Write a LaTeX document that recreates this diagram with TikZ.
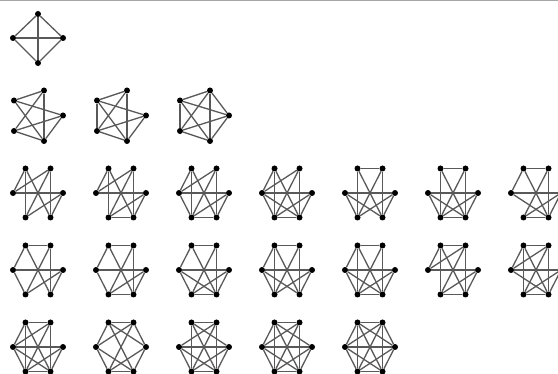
\documentclass[tikz,border=0pt]{standalone}
\tikzset{
  vtx/.style={circle, fill=black, inner sep=0pt, minimum size=6pt},
  gedge/.style={draw=black!65, line width=1.3pt},
  frame/.style={draw=black!35, line width=1pt},
}
% hexagon graph: name, cx, cy, edge list (1=TL,2=TR,3=L,4=R,5=BL,6=BR)
\newcommand{\hexg}[4]{%
  \node[vtx] (#1-1) at (#2-12.5,#3-24.5) {};
  \node[vtx] (#1-2) at (#2+12.5,#3-24.5) {};
  \node[vtx] (#1-3) at (#2-25,#3) {};
  \node[vtx] (#1-4) at (#2+25,#3) {};
  \node[vtx] (#1-5) at (#2-12.5,#3+24.5) {};
  \node[vtx] (#1-6) at (#2+12.5,#3+24.5) {};
  \foreach \a/\b in {#4} \draw[gedge] (#1-\a) -- (#1-\b);
}
% pentagon graph: name, cx, cy, edge list (1=TL,2=T,3=R,4=BR,5=BL)
\newcommand{\peng}[4]{%
  \node[vtx] (#1-1) at (#2-24,#3-15) {};
  \node[vtx] (#1-2) at (#2+6,#3-25) {};
  \node[vtx] (#1-3) at (#2+25,#3) {};
  \node[vtx] (#1-4) at (#2+6,#3+25.5) {};
  \node[vtx] (#1-5) at (#2-24,#3+15.5) {};
  \foreach \a/\b in {#4} \draw[gedge] (#1-\a) -- (#1-\b);
}
\begin{document}
\begin{tikzpicture}[x=1pt,y=-1pt]
\useasboundingbox (0,0) rectangle (558,374);
\coordinate (fl) at (0,1);
\coordinate (fr) at (558,1);
\draw[frame] (fl) -- (fr);
% K4
\node[vtx] (k-1) at (38,14) {};
\node[vtx] (k-2) at (13,38) {};
\node[vtx] (k-3) at (63,38) {};
\node[vtx] (k-4) at (38,63) {};
\foreach \a/\b in {1/2,1/3,1/4,2/3,2/4,3/4} \draw[gedge] (k-\a) -- (k-\b);
% 5 vertices
\peng{p1}{38}{115.5}{1/2,1/3,1/4,2/5,2/4,5/3,5/4,4/3}
\peng{p2}{121}{115.5}{1/2,1/3,1/4,2/5,2/4,5/3,5/4,4/3,1/5}
\peng{p3}{204}{115.5}{1/2,1/3,1/4,1/5,2/3,2/4,2/5,3/4,3/5,4/5}
% row 3
\hexg{a1}{38}{193}{1/3,1/5,1/6,2/3,2/5,2/6,3/4,4/5,4/6}
\hexg{a2}{121}{193}{1/3,1/5,1/6,2/3,2/5,2/6,3/4,4/5,4/6,5/6}
\hexg{a3}{204}{193}{1/3,1/5,1/6,2/3,2/5,2/6,3/4,3/5,4/5,4/6,5/6}
\hexg{a4}{287}{193}{1/3,1/5,1/6,2/3,2/5,2/6,3/4,3/5,3/6,4/5,4/6,5/6}
\hexg{a5}{370}{193}{1/2,1/5,1/6,2/5,2/6,3/4,3/5,3/6,4/5,4/6}
\hexg{a6}{453}{193}{1/2,1/5,1/6,2/5,2/6,3/4,3/5,3/6,4/5,4/6,5/6}
\hexg{a7}{536}{193}{1/2,1/3,1/6,2/5,2/6,3/4,3/6,4/5,4/6,5/6}
% row 4
\hexg{b1}{38}{270}{1/2,1/3,1/6,2/5,2/6,3/4,3/5,4/5,4/6}
\hexg{b2}{121}{270}{1/2,1/3,1/6,2/5,2/6,3/4,3/5,4/5,4/6,5/6}
\hexg{b3}{204}{270}{1/2,1/3,1/6,2/5,2/6,3/4,3/5,3/6,4/5,4/6,5/6}
\hexg{b4}{287}{270}{1/2,1/3,1/5,1/6,2/5,2/6,3/4,3/5,3/6,4/5,4/6}
\hexg{b5}{370}{270}{1/2,1/3,1/5,1/6,2/5,2/6,3/4,3/5,3/6,4/5,4/6,5/6}
\hexg{b6}{453}{270}{1/2,1/3,1/5,1/6,2/3,2/5,2/6,3/4,4/5,4/6,5/6}
\hexg{b7}{536}{270}{1/2,1/3,1/5,1/6,2/3,2/5,2/6,3/4,3/6,4/5,4/6,5/6}
% row 5
\hexg{c1}{38}{347}{1/2,1/3,1/5,1/6,2/3,2/5,2/6,3/4,3/5,3/6,4/5,4/6,5/6}
\hexg{c2}{121}{347}{1/2,1/3,1/4,1/6,2/3,2/4,2/5,3/5,3/6,4/5,4/6,5/6}
\hexg{c3}{204}{347}{1/2,1/4,1/5,1/6,2/3,2/5,2/6,3/4,3/5,3/6,4/5,4/6,5/6}
\hexg{c4}{287}{347}{1/2,1/3,1/4,1/5,1/6,2/3,2/5,2/6,3/4,3/5,3/6,4/5,4/6,5/6}
\hexg{c5}{370}{347}{1/2,1/3,1/4,1/5,1/6,2/3,2/4,2/5,2/6,3/4,3/5,3/6,4/5,4/6,5/6}
\end{tikzpicture}
\end{document}
